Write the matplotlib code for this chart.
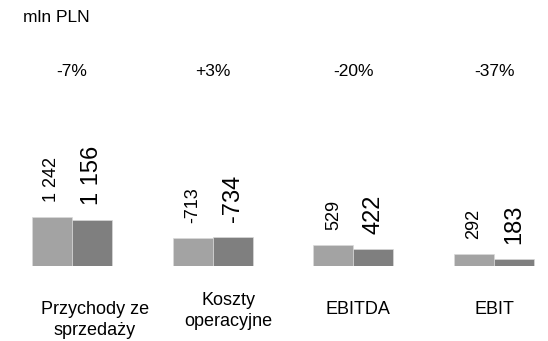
import matplotlib.pyplot as plt
import matplotlib.transforms as mtransforms

plt.rcParams['font.family'] = ['Liberation Sans', 'DejaVu Sans']

categories = ["Przychody ze\nsprzedaży", "Koszty\noperacyjne", "EBITDA", "EBIT"]
prev_year = [1242, -713, 529, 292]
curr_year = [1156, -734, 422, 183]
changes = ["-7%", "+3%", "-20%", "-37%"]

def fmt(v):
    return f"{v:,}".replace(",", " ")

fig = plt.figure(figsize=(5.48, 3.41), dpi=100)
# axes: baseline 75 px from the bottom, 266 px tall
ax = fig.add_axes([0, 75 / 341, 1, 266 / 341])
ax.set_xlim(-72 / 140.67, (548 - 72) / 140.67)
ax.set_ylim(0, 266 * 1242 / 49)
ax.axis('off')

w = 40 / 140.67
x = range(len(categories))
ax.bar([i - w / 2 for i in x], [abs(v) for v in prev_year], width=w,
       color='#a3a3a3', edgecolor='#d9d9d9', linewidth=0.5)
ax.bar([i + w / 2 for i in x], [abs(v) for v in curr_year], width=w,
       color='#7f7f7f', edgecolor='#d9d9d9', linewidth=0.5)

# value labels, rotated
off = mtransforms.offset_copy(ax.transData, fig=fig, x=0, y=15, units='dots')
for i in x:
    ax.text(i - w / 2, abs(prev_year[i]), fmt(prev_year[i]), rotation=90,
            ha='center', va='bottom', fontsize=13, transform=off)
    ax.text(i + w / 2, abs(curr_year[i]), fmt(curr_year[i]), rotation=90,
            ha='center', va='bottom', fontsize=17, transform=off)

trans = mtransforms.blended_transform_factory(ax.transData, fig.transFigure)
for i in x:
    ax.text(i, 1 - 71 / 341, changes[i], ha='center', va='center',
            fontsize=12.5, transform=trans)

# category labels (slightly shifted as in the original layout)
lab_dx = [23, 16, 5, 0]
lab_y = [320, 311, 309, 309]
for i in x:
    ax.text(i + lab_dx[i] / 140.67, 1 - lab_y[i] / 341, categories[i],
            ha='center', va='center', fontsize=13, transform=trans,
            linespacing=1.25)

fig.text(23 / 548, 1 - 18 / 341, "mln PLN", ha='left', va='center', fontsize=12.5)

fig.savefig("out.png", dpi=100)
